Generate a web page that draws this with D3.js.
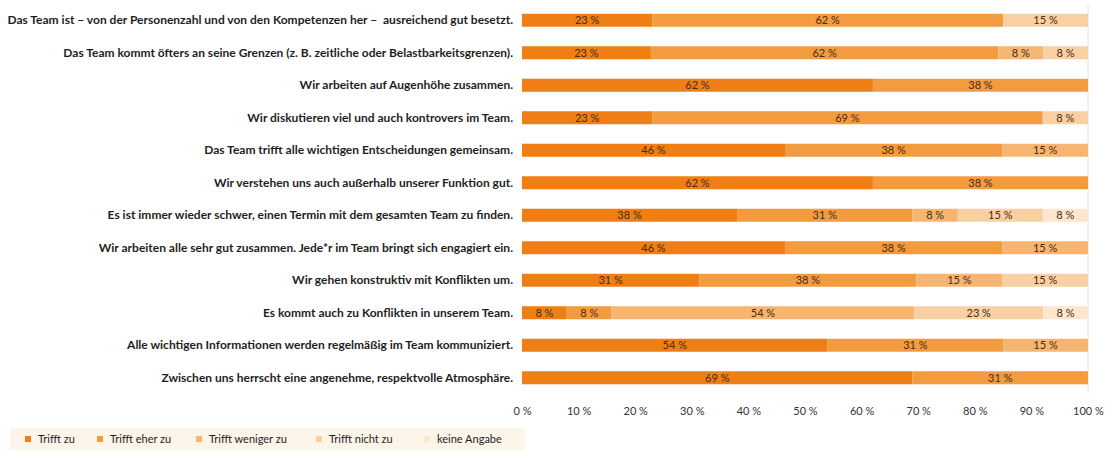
<!DOCTYPE html>
<html>
<head>
<meta charset="utf-8">
<script src="https://cdn.jsdelivr.net/npm/d3@7"></script>
<style>
  body { margin: 0; background: #fff; }
  text { font-family: Lato, "Open Sans", sans-serif; white-space: pre; }
</style>
</head>
<body>
<div id="vis-container"></div>
<script>
var statements = [
  "Das Team ist – von der Personenzahl und von den Kompetenzen her –  ausreichend gut besetzt.",
  "Das Team kommt öfters an seine Grenzen (z. B. zeitliche oder Belastbarkeitsgrenzen).",
  "Wir arbeiten auf Augenhöhe zusammen.",
  "Wir diskutieren viel und auch kontrovers im Team.",
  "Das Team trifft alle wichtigen Entscheidungen gemeinsam.",
  "Wir verstehen uns auch außerhalb unserer Funktion gut.",
  "Es ist immer wieder schwer, einen Termin mit dem gesamten Team zu finden.",
  "Wir arbeiten alle sehr gut zusammen. Jede*r im Team bringt sich engagiert ein.",
  "Wir gehen konstruktiv mit Konflikten um.",
  "Es kommt auch zu Konflikten in unserem Team.",
  "Alle wichtigen Informationen werden regelmäßig im Team kommuniziert.",
  "Zwischen uns herrscht eine angenehme, respektvolle Atmosphäre."
];
var answers = ["Trifft zu", "Trifft eher zu", "Trifft weniger zu", "Trifft nicht zu", "keine Angabe"];
var trifftZu       = [23, 23, 62, 23, 46, 62, 38, 46, 31,  8, 54, 69];
var trifftEherZu   = [62, 62, 38, 69, 38, 38, 31, 38, 38,  8, 31, 31];
var trifftWeniger  = [ 0,  8,  0,  0, 15,  0,  8, 15, 15, 54, 15,  0];
var trifftNicht    = [15,  8,  0,  8,  0,  0, 15,  0, 15, 23,  0,  0];
var keineAngabe    = [ 0,  0,  0,  0,  0,  0,  8,  0,  0,  8,  0,  0];
var ticks = [0, 10, 20, 30, 40, 50, 60, 70, 80, 90, 100];
var colors = ["#ef7f14", "#f39b3f", "#f6b570", "#f9d0a2", "#fce6cc"];

var series = [trifftZu, trifftEherZu, trifftWeniger, trifftNicht, keineAngabe];
var rows = statements.map(function(s, i) {
  var r = { name: s };
  answers.forEach(function(a, j) { r[a] = series[j][i]; });
  return r;
});

var width = 1106, height = 451;
var svg = d3.select("#vis-container").append("svg")
  .attr("width", width).attr("height", height);

// percentages are rounded, so each row is normalised to fill 100 %
var x = d3.scaleLinear().domain([0, 1]).range([522, 1088]);
var xTicks = d3.scaleLinear().domain([0, 100]).range([522, 1088]);
var y = d3.scaleBand().domain(statements).range([4, 394]).paddingInner(0.6).paddingOuter(0.3);

var stack = d3.stack().keys(answers).offset(d3.stackOffsetExpand)(rows);

// 100% line
svg.append("line")
  .attr("x1", x(1)).attr("x2", x(1))
  .attr("y1", 4).attr("y2", 394)
  .attr("stroke", "#e4e4e4").attr("stroke-width", 1);

var layer = svg.selectAll("g.layer")
  .data(stack).enter().append("g")
  .attr("class", "layer")
  .attr("fill", function(d, i) { return colors[i]; });

layer.selectAll("rect")
  .data(function(d) { return d; })
  .enter().append("rect")
  .attr("x", function(d) { return x(d[0]); })
  .attr("y", function(d) { return y(d.data.name); })
  .attr("width", function(d) { return x(d[1]) - x(d[0]); })
  .attr("height", y.bandwidth());

// value labels
layer.selectAll("text")
  .data(function(d) {
    var key = d.key;
    return d.filter(function(e) { return e.data[key] > 0; })
            .map(function(e) { e.key = key; return e; });
  })
  .enter().append("text")
  .attr("x", function(d) { return (x(d[0]) + x(d[1])) / 2; })
  .attr("y", function(d) { return y(d.data.name) + y.bandwidth() / 2 + 4; })
  .attr("text-anchor", "middle")
  .attr("font-size", "11px")
  .attr("fill", "#4a2a16")
  .text(function(d) { return d.data[d.key] + " %"; });

// category labels
var yAxis = svg.append("g")
  .attr("transform", "translate(" + (x(0) - 9) + ",0)")
  .call(d3.axisLeft(y).tickSize(0).tickPadding(0));
yAxis.select(".domain").remove();
yAxis.selectAll("text")
  .attr("font-size", "12px")
  .attr("font-weight", "bold")
  .attr("fill", "#1e1e1e")
  .attr("font-family", "Lato, sans-serif")
  .style("white-space", "pre");

// x axis
var xAxis = svg.append("g")
  .attr("transform", "translate(0,404)")
  .call(d3.axisBottom(xTicks).tickValues(ticks).tickSize(0).tickFormat(function(d) { return d + " %"; }));
xAxis.select(".domain").remove();
xAxis.selectAll("text")
  .attr("font-size", "11px")
  .attr("fill", "#333")
  .attr("font-family", "Lato, sans-serif");

// legend
var legend = svg.append("g");
legend.append("rect")
  .attr("x", 10).attr("y", 428).attr("width", 515).attr("height", 22)
  .attr("fill", "#fdf4ea");
var legendX = [25, 97, 196, 316, 424];
var item = legend.selectAll("g.item")
  .data(answers).enter().append("g")
  .attr("class", "item")
  .attr("transform", function(d, i) { return "translate(" + legendX[i] + ",439)"; });
item.append("rect")
  .attr("x", 0).attr("y", -3).attr("width", 6).attr("height", 6)
  .attr("fill", function(d, i) { return colors[i]; });
item.append("text")
  .attr("x", 13).attr("y", 4)
  .attr("font-size", "11px")
  .attr("fill", "#1e1e1e")
  .text(function(d) { return d; });
</script>
</body>
</html>
